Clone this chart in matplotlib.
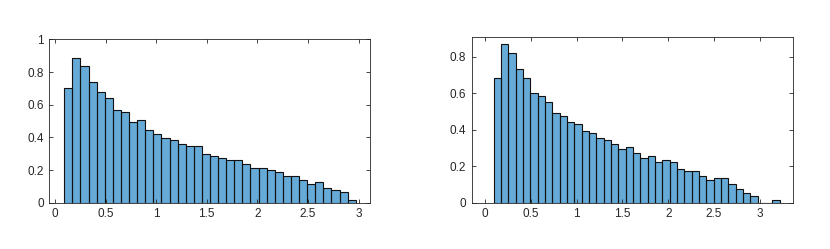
import matplotlib
matplotlib.use("Agg")
import matplotlib.pyplot as plt
import numpy as np

plt.rcParams["font.family"] = ["Liberation Sans", "DejaVu Sans"]

# Histogram heights (pdf normalisation)
left_start = 0.092
left_width = 0.08
left_heights = [0.700, 0.884, 0.835, 0.737, 0.676, 0.639, 0.565, 0.553, 0.492,
                0.504, 0.443, 0.418, 0.394, 0.382, 0.357, 0.345, 0.345, 0.296,
                0.284, 0.271, 0.259, 0.259, 0.235, 0.210, 0.210, 0.198, 0.186,
                0.161, 0.161, 0.137, 0.112, 0.124, 0.088, 0.076, 0.063, 0.014]

right_start = 0.095
right_width = 0.08
right_heights = [0.685, 0.868, 0.818, 0.732, 0.685, 0.599, 0.586, 0.550, 0.489,
                 0.477, 0.440, 0.429, 0.391, 0.380, 0.354, 0.343, 0.320, 0.294,
                 0.307, 0.270, 0.247, 0.258, 0.221, 0.234, 0.221, 0.184, 0.172,
                 0.172, 0.148, 0.124, 0.137, 0.137, 0.100, 0.075, 0.051, 0.038,
                 0.0, 0.0, 0.013]

left_xticks = [0, 0.5, 1, 1.5, 2, 2.5, 3]
left_xlabels = ["0", "0.5", "1", "1.5", "2", "2.5", "3"]
left_yticks = [0, 0.2, 0.4, 0.6, 0.8, 1]
left_ylabels = ["0", "0.2", "0.4", "0.6", "0.8", "1"]
right_xticks = [0, 0.5, 1, 1.5, 2, 2.5, 3]
right_xlabels = ["0", "0.5", "1", "1.5", "2", "2.5", "3"]
right_yticks = [0, 0.2, 0.4, 0.6, 0.8]
right_ylabels = ["0", "0.2", "0.4", "0.6", "0.8"]

axis_grey = "#262626"
face = "#0072BD"

fig = plt.figure(figsize=(8.3, 2.49), dpi=100)
ax1 = fig.add_axes([0.0594, 0.186, 0.386, 0.656])
ax2 = fig.add_axes([0.5683, 0.186, 0.3867, 0.664])


def draw_hist(ax, start, width, heights, xlim, ylim, xt, xl, yt, yl):
    edges = start + width * np.arange(len(heights) + 1)
    ax.bar(edges[:-1], heights, width=width, align="edge",
           color=face, alpha=0.6, edgecolor="none")
    ax.bar(edges[:-1], heights, width=width, align="edge",
           facecolor="none", edgecolor="#111111", linewidth=0.8)
    ax.set_xlim(*xlim)
    ax.set_ylim(*ylim)
    ax.set_xticks(xt)
    ax.set_xticklabels(xl)
    ax.set_yticks(yt)
    ax.set_yticklabels(yl)
    ax.tick_params(direction="in", top=True, right=True, length=3,
                   width=0.6, colors=axis_grey, labelsize=8.5, pad=4)
    for s in ax.spines.values():
        s.set_color(axis_grey)
        s.set_linewidth(0.6)


draw_hist(ax1, left_start, left_width, left_heights, (-0.056, 3.11), (0, 1),
          left_xticks, left_xlabels, left_yticks, left_ylabels)
draw_hist(ax2, right_start, right_width, right_heights, (-0.145, 3.357), (0, 0.905),
          right_xticks, right_xlabels, right_yticks, right_ylabels)

fig.savefig("out.png", dpi=100)
